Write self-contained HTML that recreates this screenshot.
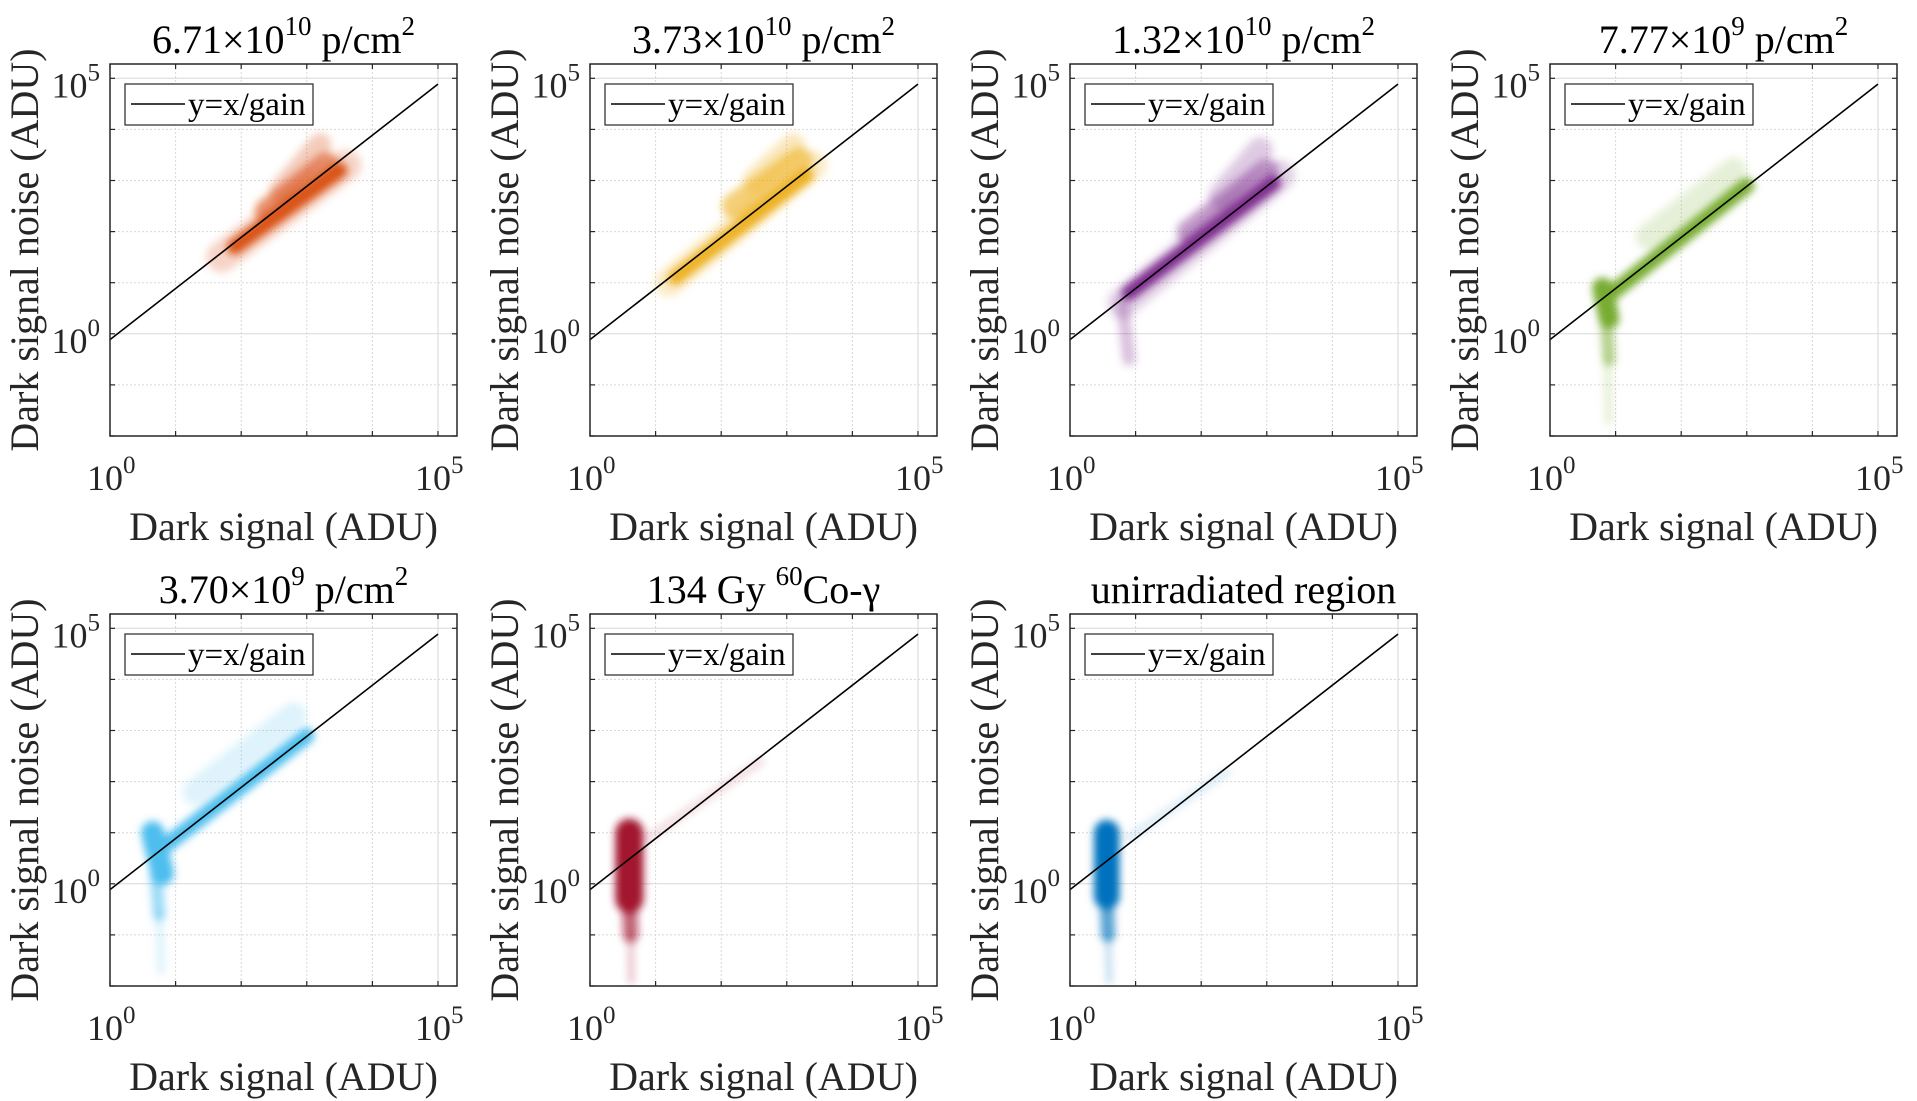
<!DOCTYPE html>
<html><head><meta charset="utf-8"><style>
html,body{margin:0;padding:0;background:#fff;}
svg{display:block;font-family:"Liberation Serif",serif;}
</style></head><body>
<svg id="fig" width="1917" height="1101" viewBox="0 0 1917 1101" xmlns="http://www.w3.org/2000/svg">
<defs><filter id="soft" x="-30%" y="-30%" width="160%" height="160%"><feGaussianBlur stdDeviation="4"/></filter></defs>
</svg>
<script>
// ---- data ----
const panelTitles = [
  ["6.71×10","10"," p/cm","2"],
  ["3.73×10","10"," p/cm","2"],
  ["1.32×10","10"," p/cm","2"],
  ["7.77×10","9"," p/cm","2"],
  ["3.70×10","9"," p/cm","2"],
  ["134 Gy ","60","Co-γ",""],
  ["unirradiated region","","",""]
];
const panelColors = ["#D95319","#EDB120","#7E2F8E","#77AC30","#4DBEEE","#A2142F","#0072BD"];
const gain = 1.3;
const xDecades = [0,1,2,3,4,5];
const yDecades = [-2,-1,0,1,2,3,4,5];
const xTickLabels = ["0","5"];
const yTickLabels = ["0","5"];
// cloud segments per panel in log10 units: [x1,y1,x2,y2,thickness(decades),alpha]
const cloud1 = [[1.7,1.5,3.6,3.3,0.6,0.25],[2.6,2.8,3.2,3.7,0.45,0.3],[2.4,2.4,3.3,3.3,0.5,0.6],[1.9,1.7,3.5,3.2,0.3,1]];
const cloud2 = [[1.2,1.0,3.4,3.3,0.55,0.25],[2.5,3.0,3.1,3.7,0.45,0.3],[2.2,2.5,3.2,3.4,0.5,0.6],[1.3,1.1,3.3,3.1,0.28,1]];
const cloud3 = [[0.8,0.6,3.2,3.1,0.6,0.22],[2.3,2.7,2.9,3.6,0.5,0.25],[0.8,0.6,0.9,-0.5,0.25,0.3],[1.8,2.0,3.0,3.2,0.45,0.45],[0.9,0.8,3.1,2.95,0.3,1]];
const cloud4 = [[1.5,1.9,2.8,3.2,0.5,0.18],[0.88,-0.5,0.9,-1.7,0.15,0.2],[0.85,0.4,0.9,-0.5,0.25,0.55],[0.8,0.9,0.9,0.3,0.4,1],[0.9,0.75,3.0,2.9,0.3,1]];
const cloud5 = [[1.3,1.8,2.8,3.3,0.5,0.18],[0.75,-0.6,0.78,-1.7,0.15,0.2],[0.7,0.2,0.75,-0.6,0.25,0.55],[0.65,1.0,0.8,0.2,0.45,1],[0.75,0.65,3.0,2.9,0.3,1]];
const cloud6 = [[0.9,0.9,2.6,2.4,0.15,0.15],[0.62,-1.0,0.63,-1.9,0.12,0.25],[0.6,-0.3,0.62,-1.0,0.3,0.65],[0.6,1.0,0.6,-0.3,0.55,1]];
const cloud7 = [[0.9,0.9,2.4,2.2,0.15,0.15],[0.58,-1.0,0.6,-1.9,0.12,0.25],[0.56,-0.25,0.58,-1.0,0.28,0.65],[0.56,1.0,0.56,-0.25,0.5,1]];
const clouds = [cloud1,cloud2,cloud3,cloud4,cloud5,cloud6,cloud7];

// ---- layout ----
const W=347,H=372, X0=110, DX=480, Y0=[64,614];
const xMin=0,xMax=5.29,yMin=-2,yMax=5.28;
const NS="http://www.w3.org/2000/svg";
const svg=document.getElementById('fig');
function mk(tag,attrs,parent){const e=document.createElementNS(NS,tag);for(const k in attrs)e.setAttribute(k,attrs[k]);(parent||svg).appendChild(e);return e;}

clouds.forEach((cloud,i)=>{
  const L=X0+(i%4)*DX, T=Y0[Math.floor(i/4)];
  const sx=v=>L+(v-xMin)/(xMax-xMin)*W;
  const sy=v=>T+H-(v-yMin)/(yMax-yMin)*H;
  const pxPerDec=H/(yMax-yMin);
  const g=mk('g',{});
  
  
  xDecades.slice(1).forEach(d=>{
    const l=mk('line',{x1:sx(d),x2:sx(d),y1:T,y2:T+H,stroke:'#d8d8d8','stroke-width':1,'stroke-dasharray':d===5?'':'2,2'},g);
    
    
  });
  yDecades.slice(1).forEach(d=>{
    const l=mk('line',{x1:L,x2:L+W,y1:sy(d),y2:sy(d),stroke:'#d8d8d8','stroke-width':1,'stroke-dasharray':(d===0||d===5)?'':'2,2'},g);
    
    
  });
  const cp=mk('clipPath',{id:'clip'+i},g);
  mk('rect',{x:L,y:T,width:W,height:H},cp);
  const outer=mk('g',{'clip-path':'url(#clip'+i+')'},g);
  const cg=mk('g',{filter:'url(#soft)'},outer);
  
  
  cloud.forEach(s=>{
    const ln=mk('line',{x1:sx(s[0]),y1:sy(s[1]),x2:sx(s[2]),y2:sy(s[3]),stroke:panelColors[i],'stroke-width':s[4]*pxPerDec,'stroke-linecap':'round',opacity:s[5]},cg);
    
    
  });
  const off=Math.log10(gain);
  const gl=mk('line',{x1:sx(0),y1:sy(0-off),x2:sx(5),y2:sy(5-off),stroke:'#000','stroke-width':1.6},g);
  
  
  const bx=mk('rect',{x:L,y:T,width:W,height:H,fill:'none',stroke:'#262626','stroke-width':1.5},g);
  
  
  xDecades.forEach(d=>{
    mk('line',{x1:sx(d),x2:sx(d),y1:T+H,y2:T+H-5,stroke:'#262626','stroke-width':1.2},g);
    mk('line',{x1:sx(d),x2:sx(d),y1:T,y2:T+5,stroke:'#262626','stroke-width':1.2},g);
  });
  yDecades.forEach(d=>{
    mk('line',{x1:L,x2:L+5,y1:sy(d),y2:sy(d),stroke:'#262626','stroke-width':1.2},g);
    mk('line',{x1:L+W,x2:L+W-5,y1:sy(d),y2:sy(d),stroke:'#262626','stroke-width':1.2},g);
  });
  [0,5].forEach((d,k)=>{
    const t=mk('text',{x:sx(d)-23,y:T+H+54,'font-size':36,fill:'#262626'},g);
    
    
    t.textContent='10';
    const s=mk('tspan',{dy:-17,'font-size':25},t);s.textContent=xTickLabels[k];
    const u=mk('text',{x:L-10,y:sy(d)+19,'font-size':36,fill:'#262626','text-anchor':'end'},g);
    
    
    u.textContent='10';
    const s2=mk('tspan',{dy:-17,'font-size':25},u);s2.textContent=yTickLabels[k];
  });
  const xl=mk('text',{x:L+W/2,y:T+H+104,'font-size':40,'text-anchor':'middle',fill:'#262626'},g);
  
  
  xl.textContent='Dark signal (ADU)';
  const yl=mk('text',{x:0,y:0,'font-size':40,'text-anchor':'middle',fill:'#262626',transform:`translate(${L-72},${T+H/2}) rotate(-90)`},g);
  
  
  yl.textContent='Dark signal noise (ADU)';
  const tp=panelTitles[i];
  const tt=mk('text',{x:L+W/2,y:T-11,'font-size':40,'text-anchor':'middle',fill:'#000'},g);
  
  
  const a=mk('tspan',{},tt);a.textContent=tp[0];
  if(tp[1]){const b=mk('tspan',{dy:-18,'font-size':27},tt);b.textContent=tp[1];}
  if(tp[2]){const c=mk('tspan',{dy:tp[1]?18:0},tt);c.textContent=tp[2];}
  if(tp[3]){const e=mk('tspan',{dy:-18,'font-size':27},tt);e.textContent=tp[3];}
  const lg=mk('g',{},g);
  
  
  mk('rect',{x:L+15,y:T+20,width:188,height:41,fill:'#fff',stroke:'#262626','stroke-width':1.2},lg);
  mk('line',{x1:L+21,x2:L+75,y1:T+40,y2:T+40,stroke:'#000','stroke-width':1.6},lg);
  const lt=mk('text',{x:L+78,y:T+51,'font-size':33,fill:'#000'},lg);
  
  
  lt.textContent='y=x/gain';
});
</script>
</body></html>
